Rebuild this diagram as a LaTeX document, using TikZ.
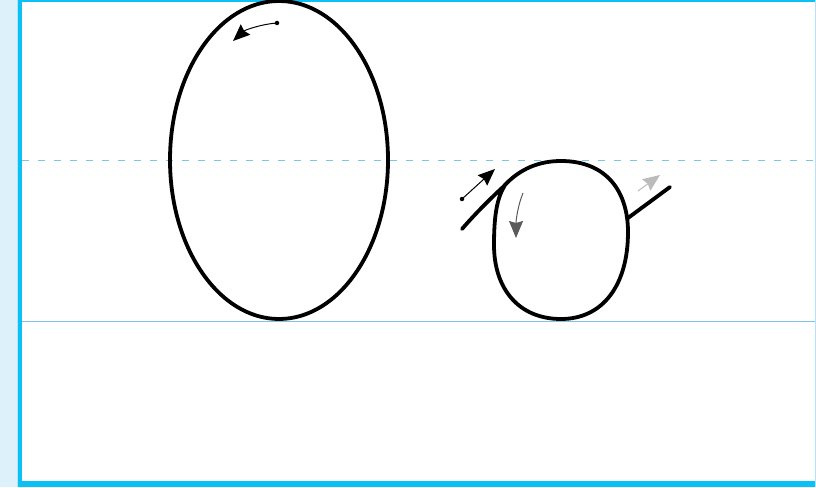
\documentclass[tikz,border=0pt]{standalone}
\usetikzlibrary{arrows.meta}
\definecolor{bandblue}{HTML}{DDF1FB}
\definecolor{bandedge}{HTML}{B3E3F8}
\definecolor{framecyan}{HTML}{0BC0F5}
\definecolor{guideblue}{HTML}{7FC4E4}
\definecolor{darkarrow}{HTML}{5A5A5A}
\definecolor{lightarrow}{HTML}{BBBBBB}
\tikzset{
  letter/.style={line width=3.8pt, line cap=round, line join=round},
  guide/.style={guideblue, line width=0.6pt},
  hint/.style={line width=1pt, -{Stealth[length=17pt,width=14pt,inset=2pt]}},
  startdot/.style={circle, fill=black, inner sep=0pt, minimum size=4.5pt}
}
\begin{document}
\begin{tikzpicture}[x=1pt,y=-1pt]
\useasboundingbox (0,0) rectangle (816,487);
% background and frame
\fill[white] (0,0) rectangle (816,487);
\fill[bandblue] (0,0) rectangle (17.5,487);
\fill[bandedge] (16.5,0) rectangle (17.8,487);
\fill[framecyan] (17.8,0) rectangle (22,487);
\fill[framecyan] (17.8,0) rectangle (816,1.6);
\fill[framecyan] (17.8,481) rectangle (816,486.5);
\fill[bandedge] (815,0) rectangle (816,487);
% guide lines
\draw[guide, dash pattern=on 7pt off 9pt] (22,160) -- (815,160);
\draw[guide] (22,321) -- (815,321);
% letter 0
\draw[letter] (279,160) ellipse [x radius=109, y radius=159];
\node[startdot] (d1) at (277,23) {};
\coordinate (t1) at (233,41);
\draw[hint] (d1.center) .. controls (262,24) and (245,30) .. (t1);
% letter o
\draw[letter] (462,229) .. controls (475,214) and (490,199) .. (503,187) .. controls (520,168) and (540,161) .. (561,161)
  .. controls (607,161) and (628,192) .. (628,232)
  .. controls (628,285) and (603,319) .. (561,319)
  .. controls (518,319) and (494,288) .. (494,245)
  .. controls (494,215) and (497,198) .. (505,185);
\draw[letter] (628,218) -- (670,187);
\node[startdot] (d2) at (462,199) {};
\coordinate (t2) at (495,169);
\draw[hint] (d2.center) -- (t2);
\coordinate (s3) at (523,193);
\coordinate (t3) at (516,238);
\draw[hint, darkarrow] (s3) .. controls (518,205) and (516,220) .. (t3);
\coordinate (s4) at (638,191);
\coordinate (t4) at (660,175);
\draw[hint, lightarrow] (s4) -- (t4);
\end{tikzpicture}
\end{document}
